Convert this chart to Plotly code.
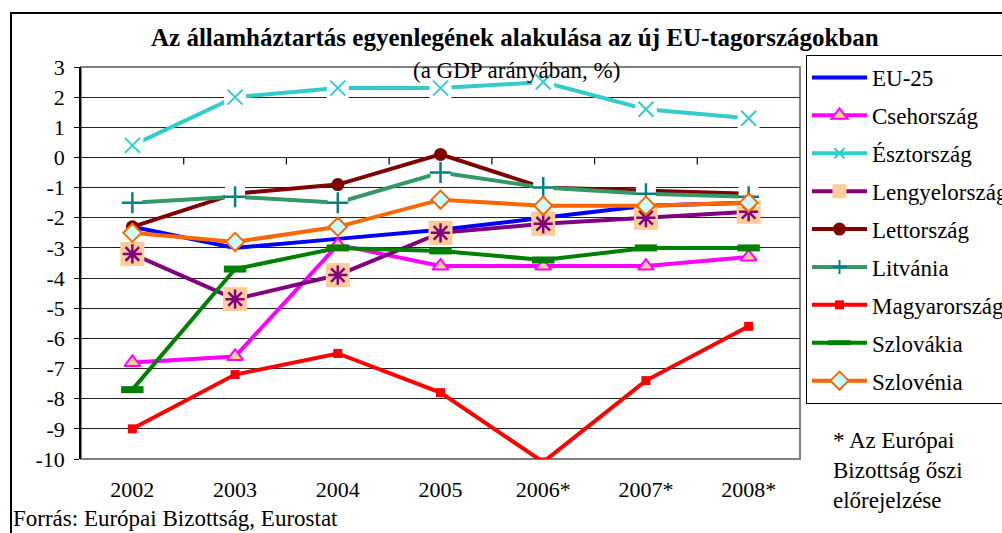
import plotly.graph_objects as go

# ---------------- data ----------------
years = ["2002", "2003", "2004", "2005", "2006*", "2007*", "2008*"]
eu25 = [-2.3, -3.0, -2.7, -2.4, -2.0, -1.6, -1.5]
cseh = [-6.8, -6.6, -2.9, -3.6, -3.6, -3.6, -3.3]
eszt = [0.4, 2.0, 2.3, 2.3, 2.5, 1.6, 1.3]
lengyel = [-3.2, -4.7, -3.9, -2.5, -2.2, -2.0, -1.8]
lett = [-2.3, -1.2, -0.9, 0.1, -1.0, -1.1, -1.2]
litv = [-1.5, -1.3, -1.5, -0.5, -1.0, -1.2, -1.3]
magyar = [-9.0, -7.2, -6.5, -7.8, -10.1, -7.4, -5.6]
szlovak = [-7.7, -3.7, -3.0, -3.1, -3.4, -3.0, -3.0]
szloven = [-2.5, -2.8, -2.3, -1.4, -1.6, -1.6, -1.5]

y_ticks = list(range(-10, 4))

FONT = "Liberation Serif"
W, H = 1002, 533
L, R, T, B = 81, 800, 67, 459  # plot area in pixels


def px(xp):
    return (xp - L) / (R - L)


def py(yp):
    return (B - yp) / (B - T)


fig = go.Figure()
LW = 4
idx = list(range(len(years)))


def line_trace(name, y, color, marker=None, mode="lines+markers", showlegend=True):
    return go.Scatter(x=idx, y=y, name=name, mode=mode, showlegend=showlegend,
                      legendgroup=name,
                      line=dict(color=color, width=LW),
                      marker=marker or dict(size=1, color=color), hoverinfo="skip")


def marker_trace(name, y, marker):
    return go.Scatter(x=idx, y=y, mode="markers", showlegend=False, hoverinfo="skip",
                      legendgroup=name, marker=marker)


def legend_dummy(name, color, marker):
    return go.Scatter(x=[None], y=[None], name=name, mode="lines+markers",
                      legendgroup=name, line=dict(color=color, width=LW),
                      marker=marker)


# EU-25
fig.add_trace(line_trace("EU-25", eu25, "#0000FF", mode="lines"))
# Csehország
fig.add_trace(line_trace("Csehország", cseh, "#FF00FF",
                         marker=dict(symbol="triangle-up", size=14, color="#FFCC99",
                                     line=dict(color="#FF00FF", width=2))))
# Észtország (line, white halo, marker)
c = "#33CCCC"
n = "Észtország"
fig.add_trace(line_trace(n, eszt, c, mode="lines", showlegend=False))
fig.add_trace(marker_trace(n, eszt, dict(symbol="square", size=22, color="white")))
fig.add_trace(marker_trace(n, eszt, dict(symbol="x-thin", size=15, line=dict(color=c, width=2))))
fig.add_trace(legend_dummy(n, c, dict(symbol="x-thin", size=10, line=dict(color=c, width=2))))
# Lengyelország (line, peach squares, asterisk)
c = "#800080"
n = "Lengyelország"
fig.add_trace(line_trace(n, lengyel, c, mode="lines", showlegend=False))
fig.add_trace(marker_trace(n, lengyel, dict(symbol="square", size=24, color="#FFCC99")))
fig.add_trace(marker_trace(n, lengyel, dict(symbol="asterisk", size=16,
                                            line=dict(color=c, width=2.5))))
fig.add_trace(legend_dummy(n, c, dict(symbol="square", size=14, color="#FFCC99",
                                      line=dict(color="#FFCC99", width=0))))
# Lettország
fig.add_trace(line_trace("Lettország", lett, "#800000",
                         marker=dict(symbol="circle", size=13, color="#800000")))
# Litvánia (line, white halo, marker)
c = "#339966"
n = "Litvánia"
fig.add_trace(line_trace(n, litv, c, mode="lines", showlegend=False))
fig.add_trace(marker_trace(n, litv, dict(symbol="square", size=20, color="white")))
fig.add_trace(marker_trace(n, litv, dict(symbol="cross-thin", size=15,
                                         line=dict(color="#008080", width=2.5))))
fig.add_trace(legend_dummy(n, c, dict(symbol="cross-thin", size=10,
                                      line=dict(color="#008080", width=2))))
# Magyarország
fig.add_trace(line_trace("Magyarország", magyar, "#FF0000",
                         marker=dict(symbol="square", size=9, color="#FF0000")))
# Szlovákia
fig.add_trace(line_trace("Szlovákia", szlovak, "#008000",
                         marker=dict(symbol="line-ew", size=16,
                                     line=dict(color="#008000", width=7))))
# Szlovénia
fig.add_trace(line_trace("Szlovénia", szloven, "#FF6600",
                         marker=dict(symbol="diamond", size=14, color="#CCFFFF",
                                     line=dict(color="#FF6600", width=2))))

# ---------------- shapes ----------------
shapes = []
# outer frame
shapes.append(dict(type="rect", xref="paper", yref="paper",
                   x0=px(11), x1=px(1100), y0=py(600), y1=py(13),
                   line=dict(color="black", width=2), layer="below"))
# plot area border
shapes.append(dict(type="rect", xref="paper", yref="paper", x0=0, x1=1, y0=0, y1=1,
                   line=dict(color="#808080", width=2), layer="below"))
# category-boundary tick marks on the zero line
for i in range(len(years) - 1):
    shapes.append(dict(type="line", xref="x", yref="y", x0=i + 0.5, x1=i + 0.5,
                       y0=0, y1=-0.23, line=dict(color="black", width=1.2), layer="below"))

annotations = [
    dict(text="<b>Az államháztartás egyenlegének alakulása az új EU-tagországokban</b>",
         xref="paper", yref="paper", x=px(515), y=py(38), xanchor="center", yanchor="middle",
         showarrow=False, font=dict(family=FONT, size=25, color="black")),
    dict(text="(a GDP arányában, %)", xref="paper", yref="paper", x=px(516), y=py(70),
         xanchor="center", yanchor="middle", showarrow=False,
         font=dict(family=FONT, size=23, color="black")),
    dict(text="Forrás: Európai Bizottság, Eurostat", xref="paper", yref="paper",
         x=px(11), y=py(518), xanchor="left", yanchor="middle", showarrow=False,
         font=dict(family=FONT, size=23, color="black")),
    dict(text="* Az Európai<br>Bizottság őszi<br>előrejelzése", xref="paper", yref="paper",
         x=px(831), y=py(471), xanchor="left", yanchor="middle", showarrow=False, align="left",
         font=dict(family=FONT, size=23, color="black")),
]

fig.update_layout(
    width=W, height=H,
    margin=dict(l=L, r=W - R, t=T, b=H - B, autoexpand=False),
    paper_bgcolor="white", plot_bgcolor="white",
    font=dict(family=FONT, size=22, color="black"),
    showlegend=True,
    legend=dict(x=px(806), y=py(55), xanchor="left", yanchor="top",
                bordercolor="black", borderwidth=1, bgcolor="white",
                font=dict(family=FONT, size=23, color="black"),
                itemwidth=55, tracegroupgap=5, traceorder="grouped", maxheight=420),
    xaxis=dict(range=[-0.5, len(years) - 0.5], tickmode="array", tickvals=idx,
               ticktext=years, showgrid=False, zeroline=False, showline=False,
               ticks="", ticklabelstandoff=15, tickfont=dict(size=22)),
    yaxis=dict(range=[-10, 3], tickmode="array", tickvals=y_ticks,
               ticktext=[str(v) for v in y_ticks], showgrid=True, gridcolor="#222222",
               gridwidth=1, zeroline=False, showline=True, linecolor="black", linewidth=1.5,
               ticks="outside", ticklen=5, tickcolor="black", ticklabelstandoff=5,
               tickfont=dict(size=22)),
    shapes=shapes, annotations=annotations,
)

fig.write_html("out.html", config={"displayModeBar": False},
               post_script="document.body.style.margin='0px';")
